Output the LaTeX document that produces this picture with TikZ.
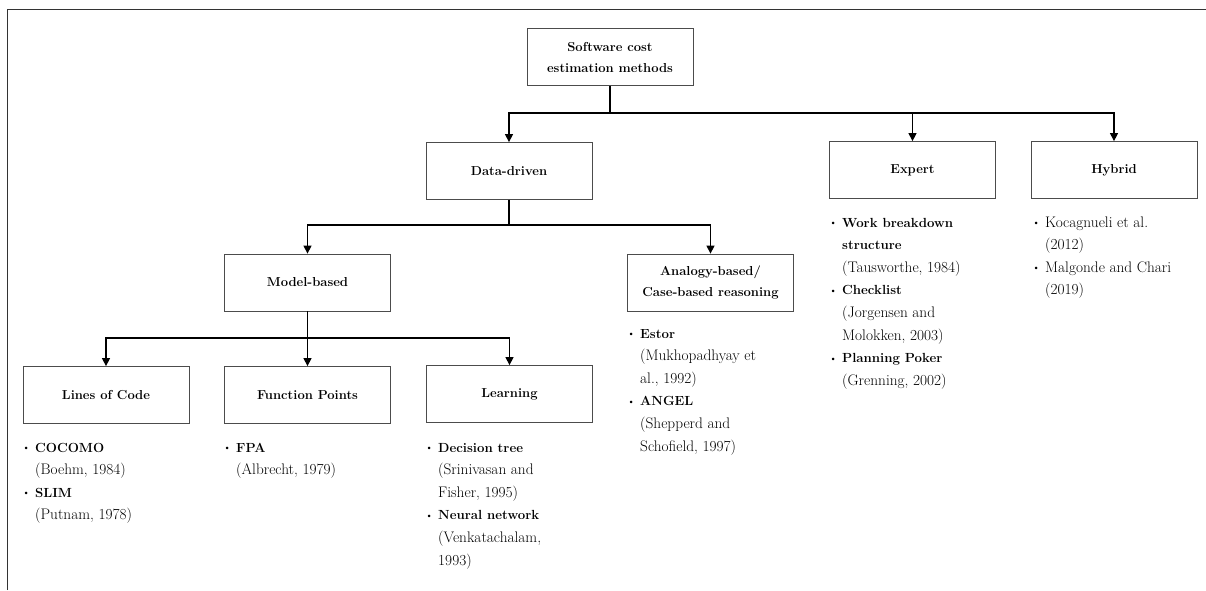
\documentclass[tikz,border=0pt]{standalone}
\usetikzlibrary{arrows.meta}
% bullet hanging to the left of an item line
\newcommand\itm{\leavevmode\llap{\raisebox{1.5pt}{\fontsize{9}{9}\selectfont\textbullet}\hspace{5.5pt}}}
% bold item name in a list
\newcommand\itname[1]{{\fontsize{13.2}{22.6}\selectfont\bfseries #1}}
% a block of list text whose first baseline sits on the node's base
\newcommand\itemblock[1]{\parbox[t]{220pt}{\fontsize{15.3}{22.6}\selectfont\raggedright #1}}
\begin{document}
\begin{tikzpicture}[x=1pt,y=-1pt,
  box/.style={draw=black!70, line width=0.8pt, minimum width=166pt,
    minimum height=57pt, inner sep=2pt, align=center,
    font=\fontsize{13}{21}\selectfont\bfseries},
  link/.style={line width=1.3pt, draw=black},
  arr/.style={link, -{Triangle[width=8pt,length=8pt]}},
  lst/.style={anchor=base west, inner sep=0pt}
]
\useasboundingbox (0,0) rectangle (1206,590);
% frame
\draw[line width=1pt, black!80] (7,590) |- (1206,9);

% category boxes
\node[box] (root)    at (610,57)    {Software cost\\estimation methods};
\node[box] (data)    at (509,171)   {Data-driven};
\node[box] (expert)  at (912.5,170) {Expert};
\node[box] (hybrid)  at (1114,170)  {Hybrid};
\node[box] (model)   at (307.5,282.5) {Model-based};
\node[box] (analogy) at (710.5,282.5) {Analogy-based/\\Case-based reasoning};
\node[box] (loc)     at (106,395)   {Lines of Code};
\node[box] (fp)      at (307.5,395) {Function Points};
\node[box] (learn)   at (509.5,394) {Learning};

% junction points of the tree
\coordinate (j1) at (610,113);
\coordinate (j2) at (509,225);
\coordinate (j3) at (307.5,338);

\draw[link] (root.south) -- (j1);
\draw[arr] (j1) -| (data.north);
\draw[arr] (j1) -| (expert.north);
\draw[arr] (j1) -| (hybrid.north);

\draw[link] (data.south) -- (j2);
\draw[arr] (j2) -| (model.north);
\draw[arr] (j2) -| (analogy.north);

\draw[link] (model.south) -- (j3);
\draw[arr] (j3) -| (loc.north);
\draw[arr] (j3) -| (fp.north);
\draw[arr] (j3) -| (learn.north);

% example methods under each box
\node[lst] (loclist) at (35,452) {\itemblock{%
  \itm\itname{COCOMO}\\(Boehm, 1984)\\
  \itm\itname{SLIM}\\(Putnam, 1978)}};
\node[lst] (fplist) at (236,452) {\itemblock{%
  \itm\itname{FPA}\\(Albrecht, 1979)}};
\node[lst] (learnlist) at (438,452) {\itemblock{%
  \itm\itname{Decision tree}\\(Srinivasan and\\Fisher, 1995)\\
  \itm\itname{Neural network}\\(Venkatachalam,\\1993)}};
\node[lst] (analogylist) at (640,338) {\itemblock{%
  \itm\itname{Estor}\\(Mukhopadhyay et\\al., 1992)\\
  \itm\itname{ANGEL}\\(Shepperd and\\Schofield, 1997)}};
\node[lst] (expertlist) at (842,227) {\itemblock{%
  \itm\itname{Work breakdown}\\\itname{structure}\\(Tausworthe, 1984)\\
  \itm\itname{Checklist}\\(Jorgensen and\\Molokken, 2003)\\
  \itm\itname{Planning Poker}\\(Grenning, 2002)}};
\node[lst] (hybridlist) at (1045,227) {\itemblock{%
  \itm Kocagnueli et al.\\(2012)\\
  \itm Malgonde and Chari\\(2019)}};
\end{tikzpicture}
\end{document}
